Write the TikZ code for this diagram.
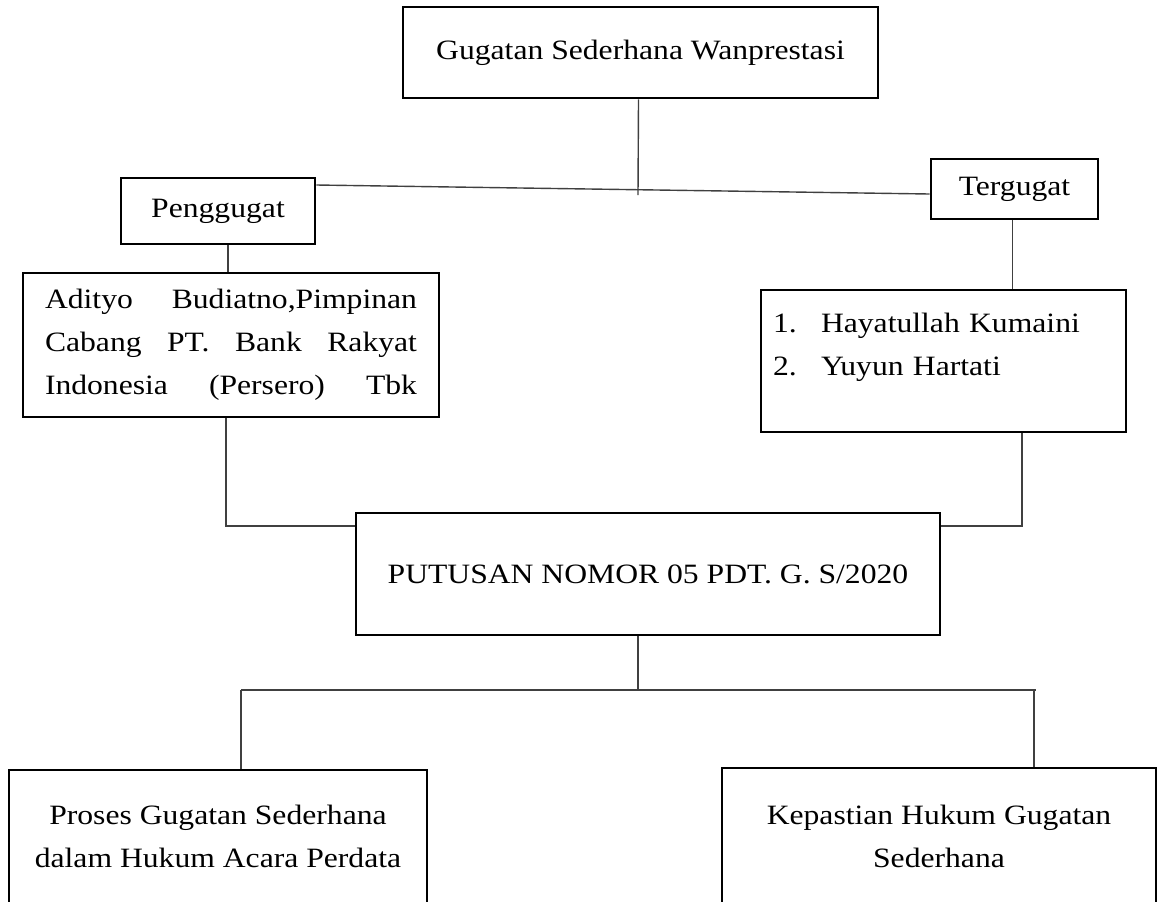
\documentclass[tikz,border=0pt]{standalone}
\usepackage{fontspec}
\setmainfont[FakeStretch=1.13]{Liberation Serif}

\begin{document}
\begin{tikzpicture}[x=0.5pt, y=-0.5pt,
font=\fontsize{14pt}{21.5pt}\selectfont,
boxnode/.style={rectangle, draw=black, line width=1.4pt, inner sep=4pt},
link/.style={draw=black!75, line width=0.7pt},
]
\useasboundingbox (0,0) rectangle (1157,901);
%Nodes
\node[boxnode, minimum width=237.5pt, minimum height=45.5pt] (top)    at (640.5,52.5) {Gugatan Sederhana Wanprestasi};
\node[boxnode, minimum width=97pt, minimum height=33pt]      (pgg)    at (218,211)    {Penggugat};
\node[boxnode, minimum width=83.5pt, minimum height=30pt]    (tgg)    at (1014.5,189) {Tergugat};
\node[boxnode, minimum height=72pt, inner xsep=11pt, text width=186pt, align=left] (adityo) at (231,345)
  {Adityo\hfill Budiatno,Pimpinan\\Cabang\hfill PT.\hfill Bank\hfill Rakyat\\Indonesia\hfill (Persero)\hfill Tbk};
\node[boxnode, minimum height=71pt, inner xsep=6pt, text width=170.5pt, align=left] (tlist) at (943.5,361)
  {\makebox[24pt][l]{1.}Hayatullah Kumaini\\\makebox[24pt][l]{2.}Yuyun Hartati\rule[-16.5pt]{0pt}{16.5pt}};
\node[boxnode, minimum width=292pt, minimum height=61pt]     (put)    at (648,574)    {PUTUSAN NOMOR 05 PDT. G. S/2020};
\node[boxnode, minimum width=209pt, minimum height=66.5pt, align=center] (proses) at (218,836.5)
  {Proses Gugatan Sederhana\\dalam Hukum Acara Perdata};
\node[boxnode, minimum width=217pt, minimum height=68pt, align=center]   (kep)    at (939,836)
  {Kepastian Hukum Gugatan\\Sederhana};
\coordinate (topend) at (638,195);
\coordinate (busl)   at (241,690);
\coordinate (busr)   at (1036,690);

%Lines
\draw[link] ([xshift=-1pt]top.south) -- (topend);
\draw[link] ([yshift=13pt]pgg.east) -- ([yshift=-2.5pt]tgg.west);
\draw[link] ([xshift=-1.5pt]adityo.north) -- ([xshift=-1.5pt]adityo.north |- pgg.south);
\draw[link] ([xshift=-1pt]tgg.south) -- ([xshift=-1pt]tgg.south |- tlist.north);
\draw[link] ([xshift=-2.5pt]adityo.south) |- ([yshift=24pt]put.west);
\draw[link] ([xshift=39.25pt]tlist.south) |- ([yshift=24pt]put.east);
\draw[link] ([xshift=-5pt]put.south) -- ([xshift=-5pt]put.south |- busl);
\draw[link] (busl) -- (busr);
\draw[link] (busl) -- (busl |- proses.north);
\draw[link] ([xshift=-1pt]busr) -- ([xshift=-1pt]busr |- kep.north);
\end{tikzpicture}
\end{document}
